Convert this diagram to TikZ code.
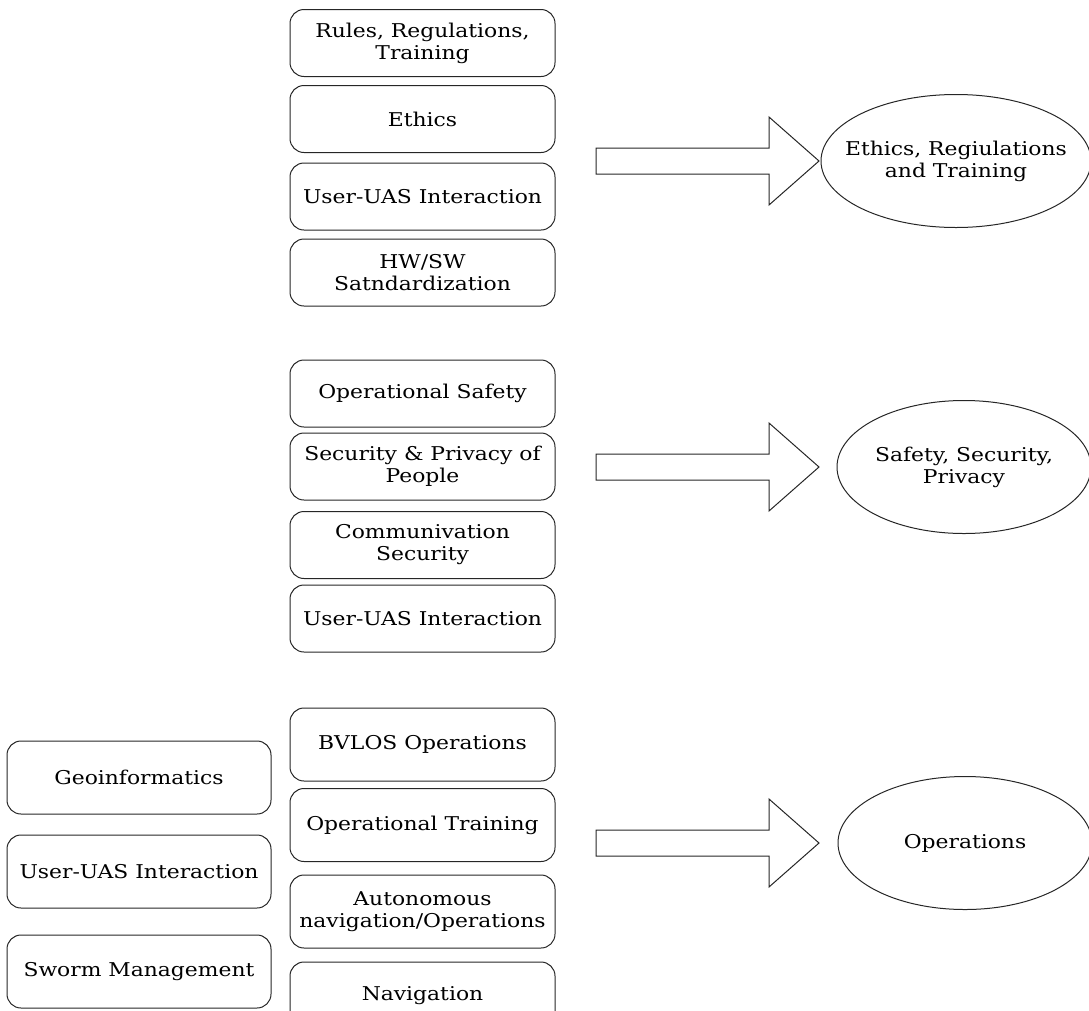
\documentclass[tikz,border=0pt]{standalone}
\usepackage{fontspec}
\setmainfont[FakeStretch=1.15]{DejaVu Serif}
\usetikzlibrary{shapes.geometric}
\begin{document}
\begin{tikzpicture}[x=1pt,y=-1pt,
    area/.style={draw=black!85, line width=1pt, rounded corners=14pt, align=center,
      minimum width=265pt, minimum height=67pt, inner sep=2pt,
      font=\fontsize{19}{22}\selectfont},
    goal/.style={draw=black!85, line width=1pt, ellipse, align=center,
      minimum width=254pt, minimum height=133pt, inner xsep=-25pt, inner ysep=0pt,
      font=\fontsize{19}{22}\selectfont},
    fat/.style={draw=black!85, line width=1pt}]
  \useasboundingbox (0,0) rectangle (1089,1010);

  \node[area] (rules) at (422.5,43) {Rules, Regulations,\\Training};
  \node[area] (ethics) at (422.5,119) {Ethics};
  \node[area] (user1) at (422.5,196.5) {User-UAS Interaction};
  \node[area] (hwsw) at (422.5,272.5) {HW/SW\\Satndardization};

  \node[area] (opsafe) at (422.5,393.5) {Operational Safety};
  \node[area] (secpriv) at (422.5,466.5) {Security \& Privacy of\\People};
  \node[area] (comsec) at (422.5,545) {Communivation\\Security};
  \node[area] (user2) at (422.5,618.5) {User-UAS Interaction};

  \node[area, minimum height=73pt] (bvlos) at (422.5,744.5) {BVLOS Operations};
  \node[area, minimum height=73pt] (optrain) at (422.5,825) {Operational Training};
  \node[area, minimum height=73pt] (autonav) at (422.5,911.5) {Autonomous\\navigation/Operations};
  \node[area, minimum height=68pt] (nav) at (422.5,996) {Navigation};

  \node[area, minimum width=264pt, minimum height=73pt] (geo) at (139,777.5) {Geoinformatics};
  \node[area, minimum width=264pt, minimum height=73pt] (user3) at (139,871.5) {User-UAS Interaction};
  \node[area, minimum width=264pt, minimum height=73pt] (sworm) at (139,971.5) {Sworm Management};

  \foreach \yc in {161,467,843}
    \draw[fat] (596,\yc-13) -- (769,\yc-13) -- (769,\yc-44) -- (819,\yc)
      -- (769,\yc+44) -- (769,\yc+13) -- (596,\yc+13) -- cycle;

  \node[goal, minimum width=270pt] (ert) at (956,161) {Ethics, Regiulations\\and Training};
  \node[goal] (ssp) at (964,467) {Safety, Security,\\Privacy};
  \node[goal] (ops) at (965,843) {Operations};
\end{tikzpicture}
\end{document}
